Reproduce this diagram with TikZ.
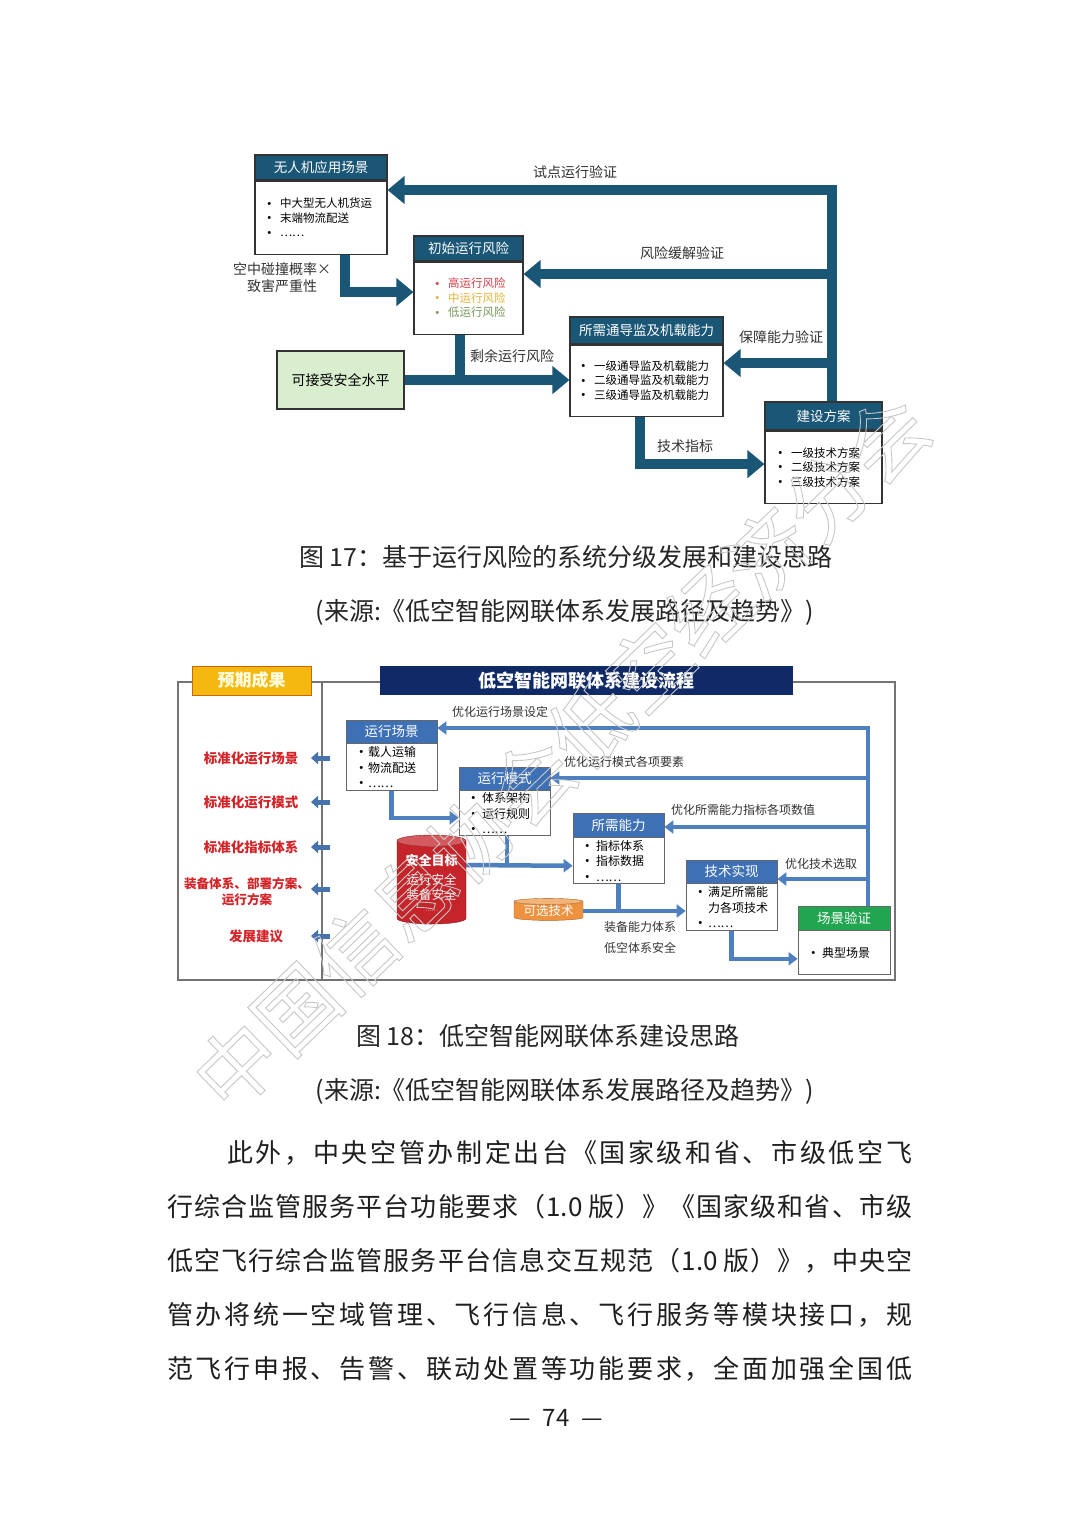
\documentclass[tikz,border=0pt]{standalone}
\usepackage{fontspec}
\setmainfont{Noto Sans CJK SC}
\usepackage{tikz}
\usetikzlibrary{calc, positioning, arrows.meta, shapes.geometric}
\definecolor{tealD}{RGB}{26,86,118}
\definecolor{safeGreen}{RGB}{216,238,206}
\definecolor{riskR}{RGB}{214,60,70}
\definecolor{riskY}{RGB}{226,180,60}
\definecolor{riskG}{RGB}{120,150,90}
\definecolor{hdrBlue}{RGB}{62,112,182}
\definecolor{arrBlue}{RGB}{78,128,192}
\definecolor{navyB}{RGB}{16,42,104}
\definecolor{goldY}{RGB}{245,184,16}
\definecolor{greenH}{RGB}{34,165,80}
\definecolor{redTxt}{RGB}{212,36,40}
\definecolor{cylRed}{RGB}{196,36,42}
\definecolor{optOrange}{RGB}{238,146,64}
\newcommand{\itm}[2][18pt]{\makebox[#1][l]{\raisebox{-1.2pt}[0pt][0pt]{\fontsize{14.5}{10}\selectfont •}}#2}
% spread a line of Chinese text over a given width
\newcount\cjkc
\cjkc="3000
\loop \XeTeXcharclass\cjkc=7 \advance\cjkc by 1 \ifnum\cjkc<"A000 \repeat
\cjkc="FF00
\loop \XeTeXcharclass\cjkc=7 \advance\cjkc by 1 \ifnum\cjkc<"FFF0 \repeat
\newcommand{\cjkglue}{\hskip 0pt plus 1fil\relax}
\XeTeXinterchartoks 7 7 = {\cjkglue}
\XeTeXinterchartoks 0 7 = {\cjkglue}
\XeTeXinterchartoks 7 0 = {\cjkglue}
\newcommand{\spreadline}[2]{\XeTeXinterchartokenstate=1 \makebox[#1][s]{#2}}

\begin{document}
\begin{tikzpicture}[x=1pt, y=-1pt, every node/.style={inner sep=0pt},
  hdrA/.style={draw=black!80, line width=1.1pt, fill=tealD, text=white, font=\fontsize{13.5}{16}\selectfont},
  boxA/.style={draw=black!80, line width=1.1pt, fill=white, align=left, font=\fontsize{11.5}{14.5}\selectfont},
  lblA/.style={text=black!80, font=\fontsize{14}{17}\selectfont},
  bigarr/.style={draw=tealD, line width=10pt, -{Triangle[width=27pt,length=17pt]}},
  bigline/.style={draw=tealD, line width=10pt},
  hdrB/.style={draw=black!60, line width=0.8pt, fill=hdrBlue, text=white, font=\fontsize{13.5}{16}\selectfont},
  boxB/.style={draw=black!60, line width=0.8pt, fill=white, align=left, font=\fontsize{12}{15.5}\selectfont},
  lblB/.style={text=black!80, font=\fontsize{12}{14}\selectfont},
  midarr/.style={draw=arrBlue, line width=4.5pt, -{Triangle[width=13pt,length=9pt]}},
  midline/.style={draw=arrBlue, line width=4.5pt},
  outarr/.style={draw=arrBlue!90!black, line width=5pt, -{Triangle[width=12pt,length=7pt]}},
  resLbl/.style={text=redTxt, align=center, font=\bfseries\fontsize{13.5}{16}\selectfont},
  frameB/.style={draw=black!55, line width=1.4pt},
  figcap/.style={text=black!85, font=\fontsize{25}{30}\selectfont},
  para/.style={text=black!88, anchor=west, font=\fontsize{26}{30}\selectfont}]

  \fill[white] (0,0) rectangle (1080,1527);
  \useasboundingbox (0,0) rectangle (1080,1527);

  % figure 17
  \node[hdrA, minimum width=132pt, minimum height=25pt] (uavh) at (321,167.5) {无人机应用场景};
  \node[boxA, below=0pt of uavh, text width=118pt, inner xsep=7pt, minimum height=73pt] (uav)
    {\itm{中大型无人机货运}\\ \itm{末端物流配送}\\ \itm{……}};
  \node[hdrA, minimum width=109pt, minimum height=25pt] (inith) at (468.5,248.5) {初始运行风险};
  \node[boxA, below=0pt of inith, text width=77pt, inner xsep=16pt, minimum height=72pt] (init)
    {\color{riskR}\itm{高运行风险}\\ \color{riskY}\itm{中运行风险}\\ \color{riskG}\itm{低运行风险}};
  \node[hdrA, minimum width=153pt, minimum height=27pt] (needh) at (646.5,330.5) {所需通导监及机载能力};
  \node[boxA, below=0pt of needh, text width=141pt, inner xsep=6pt, minimum height=71pt] (need)
    {\itm{一级通导监及机载能力}\\ \itm{二级通导监及机载能力}\\ \itm{三级通导监及机载能力}};
  \node[hdrA, minimum width=117pt, minimum height=28pt] (planh) at (823.5,416) {建设方案};
  \node[boxA, below=0pt of planh, text width=101pt, inner xsep=8pt, minimum height=72pt] (plan)
    {\itm{一级技术方案}\\ \itm{二级技术方案}\\ \itm{三级技术方案}};
  \node[draw=black!80, line width=1.1pt, fill=safeGreen, minimum width=127pt, minimum height=58pt,
    font=\fontsize{14}{17}\selectfont] (safe) at (340.5,380) {可接受安全水平};

  \node[lblA] (l1) at (575,172) {试点运行验证};
  \node[lblA] (l2) at (682,253) {风险缓解验证};
  \node[lblA] (l3) at (781,337) {保障能力验证};
  \node[lblA] (l4) at (512,356) {剩余运行风险};
  \node[lblA] (l5) at (685,446) {技术指标};
  \node[lblA, align=center] (l6) at (282,278) {空中碰撞概率×\\致害严重性};

  \coordinate (bustop) at (832,190);
  \coordinate (busA) at (832,274);
  \coordinate (busB) at (832,363);
  \draw[bigarr] (planh.north -| bustop) -- (bustop) -- (bustop -| uav.east);
  \draw[bigarr] (busA) -- (busA -| init.east);
  \draw[bigarr] (busB) -- (busB -| need.east);
  \draw[bigarr] ([xshift=24pt]uav.south) |- ([yshift=6pt]init.west);
  \draw[bigline] ([xshift=-8.5pt]init.south) -- ([xshift=-8.5pt]init.south |- safe.east);
  \draw[bigarr] (safe.east) -- (safe.east -| need.west);
  \draw[bigarr] ([xshift=-6.5pt]need.south) |- ([yshift=3pt]plan.west);

  \node[figcap] (c17) at (566,557) {图 17：基于运行风险的系统分级发展和建设思路};
  \node[figcap] (s17) at (565,612) {(来源:《低空智能网联体系发展路径及趋势》)};

  % figure 18
  \draw[frameB] (178,682) rectangle (895,980);
  \draw[frameB] (322,682) -- (322,980);
  \node[fill=goldY, draw=orange!80!black, line width=1pt, minimum width=119pt, minimum height=29pt,
    text=yellow!12, font=\bfseries\fontsize{17}{20}\selectfont] (resh) at (251.5,680.5) {预期成果};
  \node[fill=navyB, minimum width=413pt, minimum height=29pt, text=white,
    font=\bfseries\fontsize{18}{20}\selectfont] (flowh) at (586.5,680.5) {低空智能网联体系建设流程};

  \node[resLbl] (r1) at (251,758) {标准化运行场景};
  \node[resLbl] (r2) at (251,802) {标准化运行模式};
  \node[resLbl] (r3) at (251,847) {标准化指标体系};
  \node[resLbl, font=\bfseries\fontsize{12.6}{16}\selectfont] (r4) at (247,892) {装备体系、部署方案、\\运行方案};
  \node[resLbl] (r5) at (256,936) {发展建议};
  \coordinate (divR) at (330,700);
  \coordinate (divL) at (311,700);
  \draw[outarr] (r1 -| divR) -- (r1 -| divL);
  \draw[outarr] (r2 -| divR) -- (r2 -| divL);
  \draw[outarr] (r3 -| divR) -- (r3 -| divL);
  \draw[outarr] ([yshift=3pt]r4.center -| divR) -- ([yshift=3pt]r4.center -| divL);
  \draw[outarr] (r5 -| divR) -- (r5 -| divL);

  \node[hdrB, minimum width=91pt, minimum height=23pt] (scnh) at (391.5,731.5) {运行场景};
  \node[boxB, below=0pt of scnh, text width=75pt, inner xsep=8pt, minimum height=47pt] (scn)
    {\itm[14pt]{载人运输}\\ \itm[14pt]{物流配送}\\ \itm[14pt]{……}};
  \node[hdrB, minimum width=91pt, minimum height=23pt] (modeh) at (504.5,778.5) {运行模式};
  \node[boxB, below=0pt of modeh, text width=77pt, inner xsep=7pt, minimum height=45pt] (mode)
    {\itm[16pt]{体系架构}\\ \itm[16pt]{运行规则}\\ \itm[16pt]{……}};
  \node[hdrB, minimum width=91pt, minimum height=24pt] (capBh) at (618.5,825) {所需能力};
  \node[boxB, below=0pt of capBh, text width=77pt, inner xsep=7pt, minimum height=46pt] (capB)
    {\itm[16pt]{指标体系}\\ \itm[16pt]{指标数据}\\ \itm[16pt]{……}};
  \node[hdrB, minimum width=91pt, minimum height=23pt] (techh) at (731.5,871.5) {技术实现};
  \node[boxB, below=0pt of techh, text width=77pt, inner xsep=7pt, minimum height=47pt] (tech)
    {\itm[15pt]{满足所需能}\\ \hspace*{15pt}力各项技术\\ \itm[15pt]{……}};
  \node[hdrB, fill=greenH, minimum width=92pt, minimum height=24pt] (valh) at (844,918) {场景验证};
  \node[boxB, below=0pt of valh, text width=76pt, inner xsep=8pt, minimum height=44pt] (val)
    {\itm[16pt]{典型场景}};

  \node[cylinder, shape border rotate=90, aspect=0.22, cylinder uses custom fill,
    cylinder body fill=cylRed, cylinder end fill=cylRed!75, draw=cylRed!70!black,
    minimum width=69pt, minimum height=89pt, text=white, align=center,
    font=\fontsize{12.5}{15}\selectfont] (goal) at (431.5,882.5)
    {{\bfseries\fontsize{13}{15}\selectfont 安全目标}\\[4pt] 运行安全\\ 装备安全\\[-3pt] {\fontsize{6}{6}\selectfont ……}};
  \node[cylinder, shape border rotate=90, aspect=0.12, cylinder uses custom fill,
    cylinder body fill=optOrange, cylinder end fill=optOrange!70, draw=optOrange!70!black,
    minimum width=69pt, minimum height=22pt, text=white,
    font=\fontsize{12.5}{15}\selectfont] (opt) at (548.5,911) {可选技术};

  \node[lblB] (o1) at (500,712) {优化运行场景设定};
  \node[lblB] (o2) at (624,762) {优化运行模式各项要素};
  \node[lblB] (o3) at (743,810) {优化所需能力指标各项数值};
  \node[lblB] (o4) at (821,864) {优化技术选取};
  \node[lblB] (o5) at (640,927) {装备能力体系};
  \node[lblB] (o6) at (640,948) {低空体系安全};

  \coordinate (bus1) at (868,728);
  \coordinate (bus2) at (868,778);
  \coordinate (bus3) at (868,827);
  \coordinate (bus4) at (868,879);
  \draw[midarr] (valh.north -| bus1) -- (bus1) -- (bus1 -| scnh.east);
  \draw[midarr] (bus2) -- (bus2 -| modeh.east);
  \draw[midarr] (bus3) -- (bus3 -| capBh.east);
  \draw[midarr] (bus4) -- (bus4 -| techh.east);
  \draw[midarr] (scn.south) |- ([yshift=-4.5pt]mode.west);
  \draw[midline] ([xshift=2.5pt]mode.south) -- ++(0,30);
  \draw[midarr] ([yshift=17.5pt]goal.east) -- ([yshift=-5pt]capB.west);
  \draw[midline] (capB.south) -- (capB.south |- opt.east);
  \draw[midarr] (opt.east) -- (opt.east -| tech.west);
  \draw[midarr] (tech.south) |- ([yshift=-6pt]val.west);

  \node[figcap] (c18) at (548,1036) {图 18：低空智能网联体系建设思路};
  \node[figcap] (s18) at (565,1091) {(来源:《低空智能网联体系发展路径及趋势》)};

  % body text
  \node[para] (p1) at (227,1153) {\spreadline{685pt}{此外，中央空管办制定出台《国家级和省、市级低空飞}};
  \node[para] (p2) at (167,1207) {\spreadline{745pt}{行综合监管服务平台功能要求（1.0 版）》《国家级和省、市级}};
  \node[para] (p3) at (167,1261) {\spreadline{745pt}{低空飞行综合监管服务平台信息交互规范（1.0 版）》，中央空}};
  \node[para] (p4) at (167,1315) {\spreadline{745pt}{管办将统一空域管理、飞行信息、飞行服务等模块接口，规}};
  \node[para] (p5) at (167,1369) {\spreadline{745pt}{范飞行申报、告警、联动处置等功能要求，全面加强全国低}};
  \node[text=black!88, font=\fontsize{24}{28}\selectfont] (pg) at (556,1418) {—\hspace{12pt}74\hspace{12pt}—};

  \node[rotate=44, text=black!22, font=\fontsize{82}{90}\selectfont] (wm) at (561,752)
    {\special{pdf:literal direct 1 Tr 0.9 w}中国信息协会低空经济分会\special{pdf:literal direct 0 Tr}};
\end{tikzpicture}
\end{document}
